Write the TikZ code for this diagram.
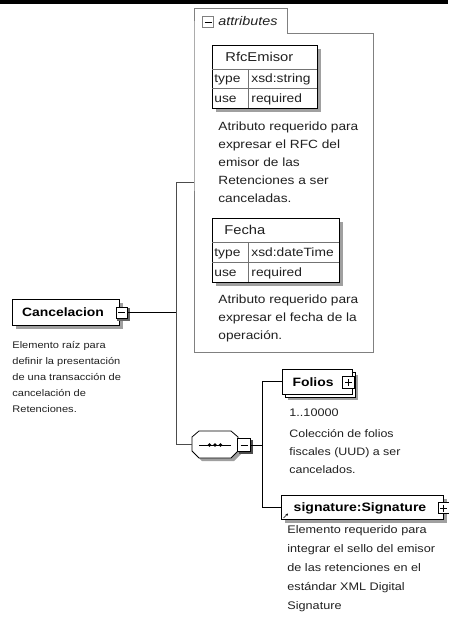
\documentclass[tikz,border=0pt]{standalone}
\usepackage{fontspec}
\setmainfont{Liberation Sans}[FakeStretch=1.15]
\usetikzlibrary{arrows.meta}
\definecolor{shadowgray}{HTML}{A0A0A0}
\definecolor{grpgray}{HTML}{808080}
\definecolor{txt}{HTML}{202020}
\begin{document}
\begin{tikzpicture}[x=1pt,y=-1pt,line width=0.8pt,
  shad/.style={fill=shadowgray,draw=none},
  box/.style={draw=black,fill=white,line width=0.8pt,inner sep=0pt},
  tog/.style={draw=black,fill=white,line width=0.7pt,minimum size=11pt,inner sep=0pt},
  grp/.style={draw=grpgray,line width=0.8pt},
  conn/.style={draw=black,line width=0.9pt},
  gconn/.style={draw=black!70,line width=0.8pt},
  desc/.style={anchor=base west,align=left,inner sep=0pt,text=txt},
  cell/.style={anchor=base west,inner sep=0pt,text=txt,font=\fontsize{12}{14}\selectfont},
  head/.style={anchor=base west,inner sep=0pt,text=txt,font=\fontsize{12.8}{14}\selectfont},
  elname/.style={inner sep=0pt,text=black,font=\bfseries\fontsize{12.1}{14}\selectfont}]
\useasboundingbox (0,0) rectangle (448,617);
\fill[black] (0,0) rectangle (448,4.5);

% ---------- attributes group ----------
\draw[grp] (194,33) -- (194,8) -- (287,8) -- (287,33) -- (373,33) -- (373,352) -- (194,352) -- cycle;
\coordinate (attrin) at (194,182);
\node[draw=grpgray,fill=white,line width=0.7pt,minimum size=11pt,inner sep=0pt] (attrtog) at (208,22) {};
\draw[black,line width=0.8pt] (204.5,22) -- (211.5,22);
\node[anchor=west,inner sep=0pt,text=txt,font=\itshape\fontsize{12.5}{14}\selectfont] (attrlbl) at (218,21.5) {attributes};

% RfcEmisor table
\fill[shad] (216,49) rectangle (321,112);
\node[box,minimum width=105pt,minimum height=63pt,anchor=north west] (rfctab) at (212,45) {};
\draw[black!55,line width=0.7pt] (212,69) -- (317,69) (212,88) -- (317,88) (248,69) -- (248,108);
\node[head] (rfchead) at (225,61.5) {RfcEmisor};
\node[cell] (rfct1) at (214,83) {type};
\node[cell] (rfct2) at (251,83) {xsd:string};
\node[cell] (rfcu1) at (214,102.5) {use};
\node[cell] (rfcu2) at (251,102.5) {required};

\node[desc,font=\fontsize{11.9}{18}\selectfont] (d1) at (218,203) {Atributo requerido para\\expresar el RFC del\\emisor de las\\Retenciones a ser\\canceladas.};

% Fecha table
\fill[shad] (216,222) rectangle (343,286);
\node[box,minimum width=127pt,minimum height=64pt,anchor=north west] (fechatab) at (212,218) {};
\draw[black!55,line width=0.7pt] (212,242) -- (339,242) (212,262) -- (339,262) (248,242) -- (248,282);
\node[head] (fechahead) at (224,234.5) {Fecha};
\node[cell] (fecht1) at (214,256.5) {type};
\node[cell] (fecht2) at (251,256.5) {xsd:dateTime};
\node[cell] (fechu1) at (214,276) {use};
\node[cell] (fechu2) at (251,276) {required};

\node[desc,font=\fontsize{11.9}{18}\selectfont] (d2) at (218,339) {Atributo requerido para\\expresar el fecha de la\\operación.};

% ---------- Cancelacion ----------
\fill[shad] (16,303) rectangle (123,329);
\node[box,minimum width=107pt,minimum height=26pt] (canc) at (65.5,312) {};
\node[elname] (canclbl) at (63,312) {Cancelacion};
\fill[black!60] (117,308) rectangle (129.5,320.5);
\node[tog] (canctog) at (121.5,312.5) {};
\draw[black] (118,312.5) -- (125,312.5);
\node[desc,font=\fontsize{9.6}{16}\selectfont] (d0) at (12,412.5) {Elemento raíz para\\definir la presentación\\de una transacción de\\cancelación de\\Retenciones.};

\coordinate (j1) at (176,312.5);
\draw[conn] (canctog.east) -- (j1);
\draw[gconn] (j1) |- (attrin);

% ---------- sequence ----------
\fill[shad] (202,434) -- (234,434) -- (241,440) -- (241,454) -- (234,461) -- (202,461) -- (195,454) -- (195,440) -- cycle;
\node[minimum width=46pt,minimum height=27pt,inner sep=0pt] (seq) at (215,444.5) {};
\draw[black,fill=white,line width=0.8pt] (199,431) -- (231,431) -- (238,437) -- (238,451) -- (231,458) -- (199,458) -- (192,451) -- (192,437) -- cycle;
\draw[black,line width=0.8pt] (199,445) -- (231,445);
\foreach \dx in {209.5,215,220.5} \fill[black] (\dx,445) circle (1.9pt);
\draw[gconn] (j1) |- (seq.west);
\fill[black!70] (239,440) rectangle (252.5,454);
\node[tog,minimum size=12.5pt] (seqtog) at (244,445) {};
\draw[black] (240.5,445) -- (247.5,445);

\coordinate (j2) at (262,445);
\draw[conn] (seqtog.east) -- (j2);

% ---------- Folios ----------
\fill[shad] (288,375) rectangle (358,400);
\draw[black,fill=white,line width=0.8pt] (285,372) rectangle (355,397);
\node[box,minimum width=70pt,minimum height=25pt] (folios) at (317,381.5) {};
\node[elname] (folioslbl) at (313,382) {Folios};
\node[tog,minimum size=11.5pt] (foliostog) at (348.5,382.5) {};
\draw[black] (345,382.5) -- (352,382.5) (348.5,379) -- (348.5,386);
\draw[conn] (j2) |- (folios.west);
\node[desc,font=\fontsize{11}{18}\selectfont] (occ) at (289,416) {1..10000};
\node[desc,font=\fontsize{10.8}{18}\selectfont] (d3) at (289,473) {Colección de folios\\fiscales (UUD) a ser\\cancelados.};

% ---------- signature ----------
\fill[shad] (285,499) rectangle (447,523);
\node[box,minimum width=162pt,minimum height=24pt] (sig) at (362,507) {};
\node[elname,font=\bfseries\fontsize{12.2}{14}\selectfont] (siglbl) at (360,508) {signature:Signature};
\node[tog] (sigtog) at (443.5,508) {};
\draw[black] (440,508) -- (447,508) (443.5,504.5) -- (443.5,511.5);
\draw[black,line width=0.6pt,-{Stealth[length=2.5pt,width=2.5pt]}] (283.5,518) -- (288,513.5);
\draw[conn] (j2) |- (sig.west);
\node[desc,font=\fontsize{11}{19}\selectfont] (d4) at (287,609) {Elemento requerido para\\integrar el sello del emisor\\de las retenciones en el\\estándar XML Digital\\Signature};
\end{tikzpicture}
\end{document}
